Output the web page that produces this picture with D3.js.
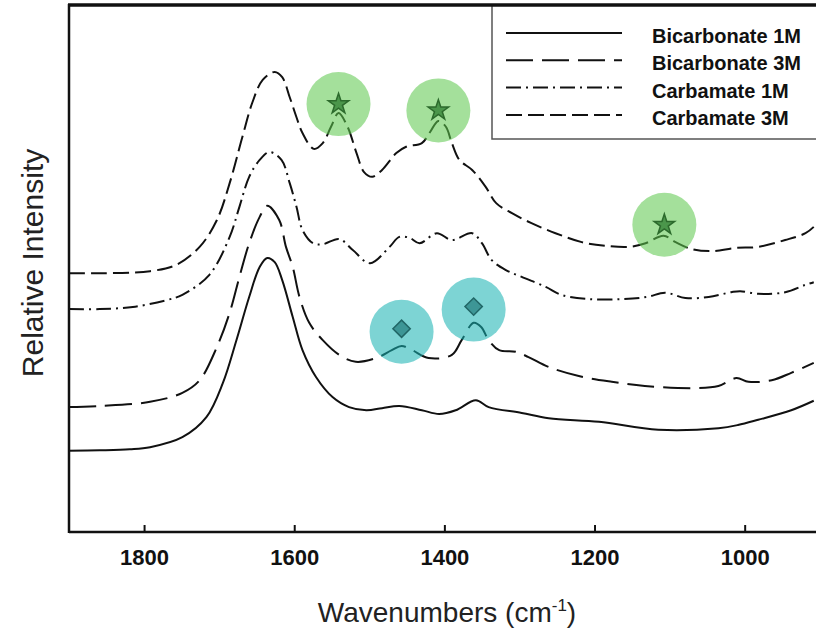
<!DOCTYPE html>
<html>
<head>
<meta charset="utf-8">
<script src="https://cdn.jsdelivr.net/npm/d3@7/dist/d3.min.js"></script>
<style>
  html, body { margin: 0; padding: 0; background: #fff; }
  svg { display: block; }
  text { font-family: Arial, "Liberation Sans", sans-serif; }
</style>
</head>
<body>
<svg id="chart" width="816" height="630"></svg>
<script>
// Raman spectra, wavenumber (cm-1) vs. relative intensity (offset traces)
const wavenumbers = {
  bic1: [1900,1859,1819,1792,1749,1717,1695,1677,1660,1646,1636,1626,1616,1602,1589,1571,1549,1527,1504,1483,1460,1430,1407,1385,1358,1341,1297,1261,1194,1115,1035,1009,982,938,908],
  bic3: [1900,1859,1792,1749,1726,1703,1686,1673,1660,1646,1636,1620,1611,1602,1593,1580,1562,1540,1518,1491,1470,1457,1443,1421,1390,1377,1361,1351,1341,1327,1305,1288,1261,1221,1177,1133,1062,1035,1011,995,964,938,908],
  carb1: [1900,1859,1815,1770,1749,1713,1686,1673,1660,1646,1633,1617,1606,1597,1589,1575,1562,1540,1522,1499,1473,1460,1446,1433,1410,1390,1363,1350,1337,1318,1297,1265,1244,1208,1164,1130,1106,1079,1048,1018,1006,982,946,919,908],
  carb3: [1900,1859,1792,1757,1726,1703,1686,1669,1656,1642,1626,1616,1606,1597,1589,1574,1562,1551,1541,1529,1517,1507,1496,1483,1464,1451,1430,1419,1408,1398,1390,1380,1363,1345,1331,1310,1284,1252,1217,1185,1154,1132,1108,1092,1071,1044,1012,982,946,919,908]
};

const bicarbonate1M = [15.4,15.5,15.7,16.1,18.0,21.8,28.3,36.4,44.6,50.3,52.0,51.2,47.8,40.8,34.5,29.4,25.6,23.7,23.1,23.5,23.9,23.1,22.4,23.1,25.0,23.7,22.6,21.6,20.9,19.4,19.7,20.3,21.3,23.1,24.9];
const bicarbonate3M = [23.7,23.9,24.7,26.4,28.8,35.1,41.6,48.4,54.8,59.8,61.9,59.2,54.1,50.3,44.6,39.7,36.4,33.6,32.3,33.0,34.5,35.3,34.5,33.0,33.6,36.4,39.7,38.9,36.4,34.5,34.2,33.2,31.3,29.6,28.5,27.7,27.3,27.7,29.2,28.5,28.8,30.2,32.1];
const carbamate1M = [42.3,42.3,42.7,44.0,45.0,48.8,56.0,61.7,67.4,70.6,72.1,70.6,66.2,61.7,57.3,54.8,54.6,55.6,53.5,51.0,54.1,56.0,55.8,54.8,56.7,55.4,56.7,54.8,51.6,49.7,48.4,46.5,45.0,44.2,44.2,44.6,45.4,44.4,44.6,45.5,45.7,45.2,45.5,46.9,47.4];
const carbamate3M = [49.1,49.1,49.5,50.7,54.1,59.2,66.2,75.0,81.4,85.8,87.3,86.3,82.5,78.7,75.7,72.7,73.8,76.9,79.5,76.9,71.9,68.3,67.4,68.7,71.9,73.1,73.8,75.9,78.0,76.9,73.8,70.6,68.7,65.5,62.4,60.5,58.6,56.7,55.0,54.3,54.1,54.8,56.2,55.0,53.7,53.3,53.9,54.1,55.4,56.7,57.9];

const seriesNames = ["Bicarbonate 1M", "Bicarbonate 3M", "Carbamate 1M", "Carbamate 3M"];
const xTickValues = [1800, 1600, 1400, 1200, 1000];

// Highlighted bands: carbamate (stars) and bicarbonate (diamonds)
const carbamateBands = [ {w: 1541, v: 81.2}, {w: 1408, v: 80.0}, {w: 1107, v: 58.3} ];
const bicarbonateBands = [ {w: 1457, v: 38.0}, {w: 1361, v: 42.2} ];

const series = [
  { name: seriesNames[0], w: wavenumbers.bic1,  v: bicarbonate1M, dash: null },
  { name: seriesNames[1], w: wavenumbers.bic3,  v: bicarbonate3M, dash: "27,9" },
  { name: seriesNames[2], w: wavenumbers.carb1, v: carbamate1M,   dash: "15,5,2,5" },
  { name: seriesNames[3], w: wavenumbers.carb3, v: carbamate3M,   dash: "16,6" }
];

const svg = d3.select("#chart");
const plotLeft = 69, plotRight = 816, plotTop = 5, plotBottom = 532;

const x = d3.scaleLinear().domain([1900, 905]).range([plotLeft, plotRight]);
const y = d3.scaleLinear().domain([0, 100]).range([plotBottom, plotTop]);

// spectra
const line = d3.line()
  .x(d => x(d[0]))
  .y(d => y(d[1]))
  .curve(d3.curveCatmullRom.alpha(0.5));

const traces = svg.append("g");
series.forEach(s => {
  const pts = s.w.map((w, i) => [w, s.v[i]]);
  traces.append("path")
    .attr("d", line(pts))
    .attr("fill", "none")
    .attr("stroke", "#111")
    .attr("stroke-width", 2)
    .attr("stroke-dasharray", s.dash);
});

// band highlights (translucent, so the traces stay visible through them)
const marks = svg.append("g");
marks.selectAll("circle.carb").data(carbamateBands).join("circle")
  .attr("class", "carb")
  .attr("cx", d => x(d.w)).attr("cy", d => y(d.v)).attr("r", 32)
  .attr("fill", "#5cc84c").attr("fill-opacity", 0.56);
marks.selectAll("circle.bic").data(bicarbonateBands).join("circle")
  .attr("class", "bic")
  .attr("cx", d => x(d.w)).attr("cy", d => y(d.v)).attr("r", 32)
  .attr("fill", "#18b3b3").attr("fill-opacity", 0.56);

marks.selectAll("path.star").data(carbamateBands).join("path")
  .attr("class", "star")
  .attr("d", d3.symbol().type(d3.symbolStar).size(130))
  .attr("transform", d => `translate(${x(d.w)},${y(d.v)})`)
  .attr("fill", "#4b964b").attr("stroke", "#2c6a2c").attr("stroke-width", 1.5);
marks.selectAll("path.diamond").data(bicarbonateBands).join("path")
  .attr("class", "diamond")
  .attr("d", d3.symbol().type(d3.symbolSquare).size(150))
  .attr("transform", d => `translate(${x(d.w)},${y(d.v) - 3}) rotate(45)`)
  .attr("fill", "#3d9696").attr("stroke", "#216666").attr("stroke-width", 1.5);

// x axis (ticks pointing inward)
const xAxis = d3.axisBottom(x).tickValues(xTickValues).tickFormat(d3.format("d"))
  .tickSizeInner(-7).tickSizeOuter(0).tickPadding(17);
const gx = svg.append("g").attr("transform", `translate(0,${plotBottom})`).call(xAxis);
gx.select(".domain").remove();
gx.selectAll(".tick line").attr("stroke", "#111").attr("stroke-width", 2);
gx.selectAll(".tick text")
  .attr("fill", "#111")
  .style("font-size", "22px")
  .style("font-weight", "bold")
  .style("font-family", "Arial, 'Liberation Sans', sans-serif");

// legend
const legend = svg.append("g");
legend.append("rect")
  .attr("x", 492).attr("y", plotTop).attr("width", 360).attr("height", 134)
  .attr("fill", "#fff").attr("stroke", "#555").attr("stroke-width", 1.5);
series.forEach((s, i) => {
  const ly = 33 + i * 27.3;
  legend.append("line")
    .attr("x1", 506).attr("x2", 622).attr("y1", ly).attr("y2", ly)
    .attr("stroke", "#111").attr("stroke-width", 2)
    .attr("stroke-dasharray", s.dash);
  legend.append("text")
    .attr("x", 652).attr("y", ly + 10)
    .attr("fill", "#111")
    .style("font-size", "20px").style("font-weight", "bold")
    .text(s.name);
});

// frame
const frame = svg.append("g").attr("fill", "none").attr("stroke", "#111");
frame.append("line").attr("x1", plotLeft).attr("x2", plotRight).attr("y1", plotBottom).attr("y2", plotBottom).attr("stroke-width", 2.5);
frame.append("line").attr("x1", plotLeft).attr("x2", plotLeft).attr("y1", plotTop - 1).attr("y2", plotBottom + 1).attr("stroke-width", 2.5);
frame.append("line").attr("x1", plotLeft - 1).attr("x2", plotRight).attr("y1", plotTop).attr("y2", plotTop).attr("stroke-width", 3.5);

// axis titles
const xt = svg.append("text")
  .attr("x", 447).attr("y", 622)
  .attr("text-anchor", "middle")
  .attr("fill", "#222")
  .style("font-size", "28px");
xt.append("tspan").text("Wavenumbers (cm");
xt.append("tspan").attr("dy", -11).style("font-size", "17px").text("-1");
xt.append("tspan").attr("dy", 11).text(")");

svg.append("text")
  .attr("transform", "translate(43,263) rotate(-90)")
  .attr("text-anchor", "middle")
  .attr("fill", "#222")
  .style("font-size", "30px")
  .text("Relative Intensity");
</script>
</body>
</html>
